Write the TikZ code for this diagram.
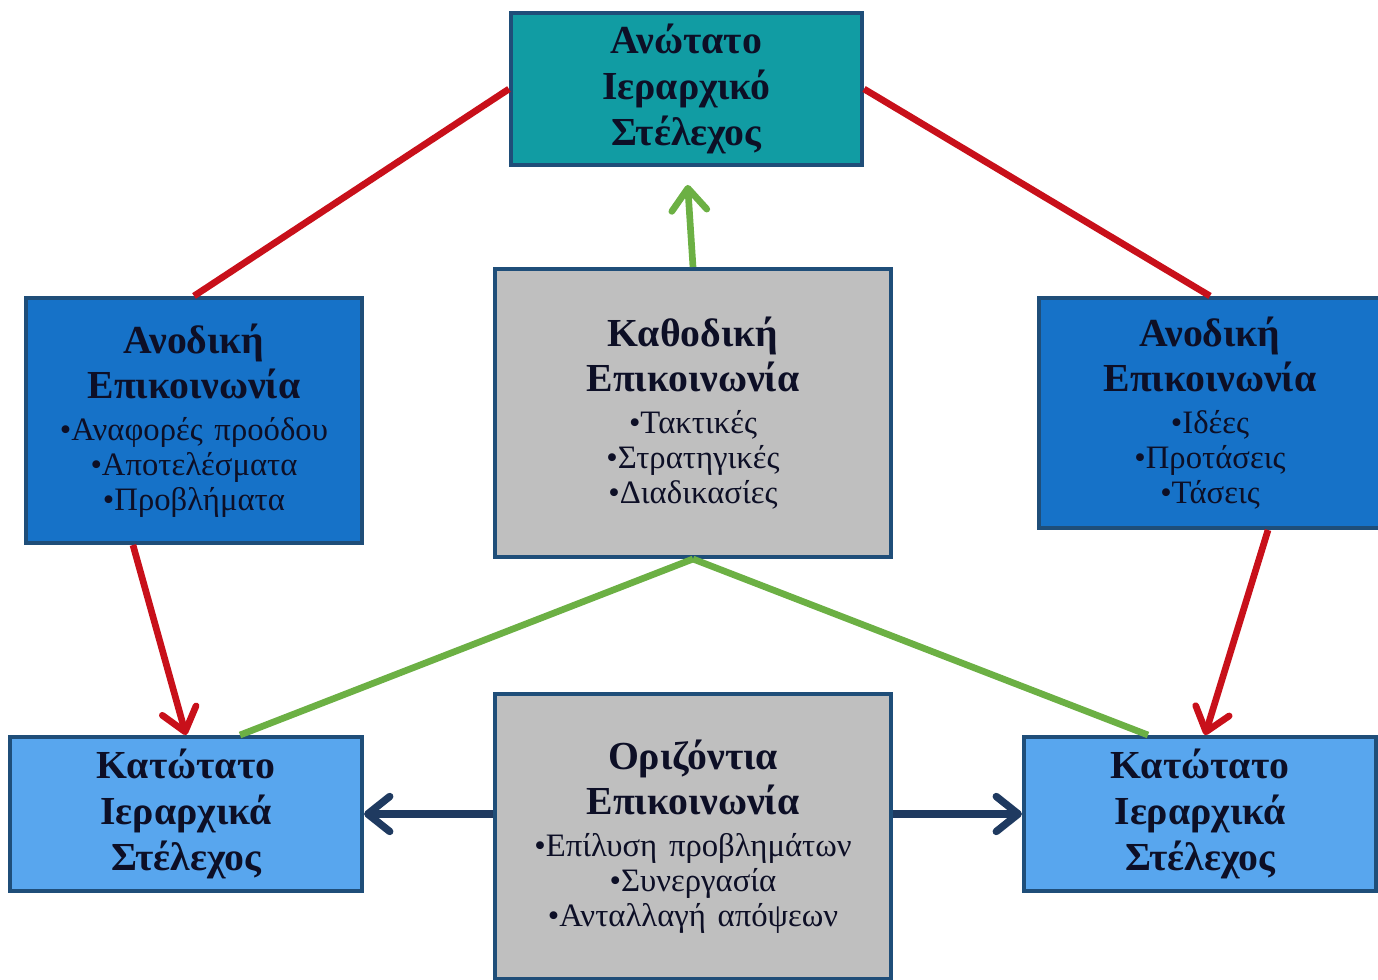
\documentclass[tikz,border=0pt]{standalone}
\usepackage{fontspec}
\setmainfont{Liberation Serif}
\usepackage{xcolor}
\usetikzlibrary{arrows.meta}
\definecolor{boxline}{HTML}{1F4E79}
\definecolor{tealfill}{HTML}{119CA3}
\definecolor{bluefill}{HTML}{1672C8}
\definecolor{lightfill}{HTML}{58A6EE}
\definecolor{greyfill}{HTML}{BFBFBF}
\definecolor{textdark}{HTML}{0D0F26}
\definecolor{upred}{HTML}{C8101A}
\definecolor{downgreen}{HTML}{6CB044}
\definecolor{sidenavy}{HTML}{1F3A60}
\newcommand{\ttl}{\bfseries\fontsize{11.3}{13}\selectfont}
\newcommand{\lst}{\mdseries\fontsize{9.3}{9.9}\selectfont}
\tikzstyle{box}=[
        draw = boxline,
        line width = 1.1pt,
        text = textdark,
        align = center,
        inner sep = 0pt
    ]
\tikzstyle{teal box}=[box, fill = tealfill, minimum width = 3.51cm, minimum height = 1.52cm, text width = 3.3cm]
\tikzstyle{blue box}=[box, fill = bluefill, text width = 3.2cm]
\tikzstyle{grey box}=[box, fill = greyfill, minimum width = 3.96cm, text width = 3.7cm]
\tikzstyle{light box}=[box, fill = lightfill, minimum width = 3.52cm, minimum height = 1.54cm, text width = 3.3cm]
\tikzstyle{red link}=[draw = upred, line width = 1.9pt]
\tikzstyle{green link}=[draw = downgreen, line width = 1.9pt]
\tikzstyle{navy link}=[draw = sidenavy, line width = 2.1pt]

\begin{document}
\begin{tikzpicture}[x=0.01cm, y=-0.01cm, barb/.style = {-{Straight Barb[round, length=2.2mm, width=3.5mm]}}]
        \useasboundingbox (0,0) rectangle (1378,980);

        \node[teal box] (top) at (686.5,89) {\ttl Ανώτατο\\Ιεραρχικό\\Στέλεχος\par};
        \node[blue box, minimum width = 3.36cm, minimum height = 2.45cm] (upL) at (194,420.5)
            {\ttl Ανοδική\\Επικοινωνία\par\vspace{2pt}\lst •Αναφορές προόδου\\•Αποτελέσματα\\•Προβλήματα\par};
        \node[grey box, minimum height = 2.88cm] (down) at (693,413)
            {\ttl Καθοδική\\Επικοινωνία\par\vspace{2pt}\lst •Τακτικές\\•Στρατηγικές\\•Διαδικασίες\par};
        \node[blue box, minimum width = 3.42cm, minimum height = 2.30cm] (upR) at (1210,413)
            {\ttl Ανοδική\\Επικοινωνία\par\vspace{2pt}\lst •Ιδέες\\•Προτάσεις\\•Τάσεις\par};
        \node[light box] (lowL) at (186,814) {\ttl Κατώτατο\\Ιεραρχικά\\Στέλεχος\par};
        \node[grey box, minimum height = 2.85cm] (horiz) at (693,836.5)
            {\ttl Οριζόντια\\Επικοινωνία\par\vspace{2pt}\lst •Επίλυση προβλημάτων\\•Συνεργασία\\•Ανταλλαγή απόψεων\par};
        \node[light box] (lowR) at (1200,814) {\ttl Κατώτατο\\Ιεραρχικά\\Στέλεχος\par};

        \draw[red link] (top.west) -- (upL.north);
        \draw[red link] (top.east) -- (upR.north);
        \draw[red link, barb] ([xshift=-0.61cm]upL.south) -- (lowL.north);
        \draw[red link, barb] ([xshift=0.58cm]upR.south) -- ([xshift=0.05cm]lowR.north);
        \draw[green link, barb, shorten >= 0.18cm] (down.north) -- (top.south);
        \draw[green link] (down.south) -- ([xshift=0.54cm]lowL.north);
        \draw[green link] (down.south) -- ([xshift=-0.52cm]lowR.north);
        \draw[navy link, barb] (horiz.west |- lowL.east) -- (lowL.east);
        \draw[navy link, barb] (horiz.east |- lowR.west) -- (lowR.west);

    \end{tikzpicture}
\end{document}
